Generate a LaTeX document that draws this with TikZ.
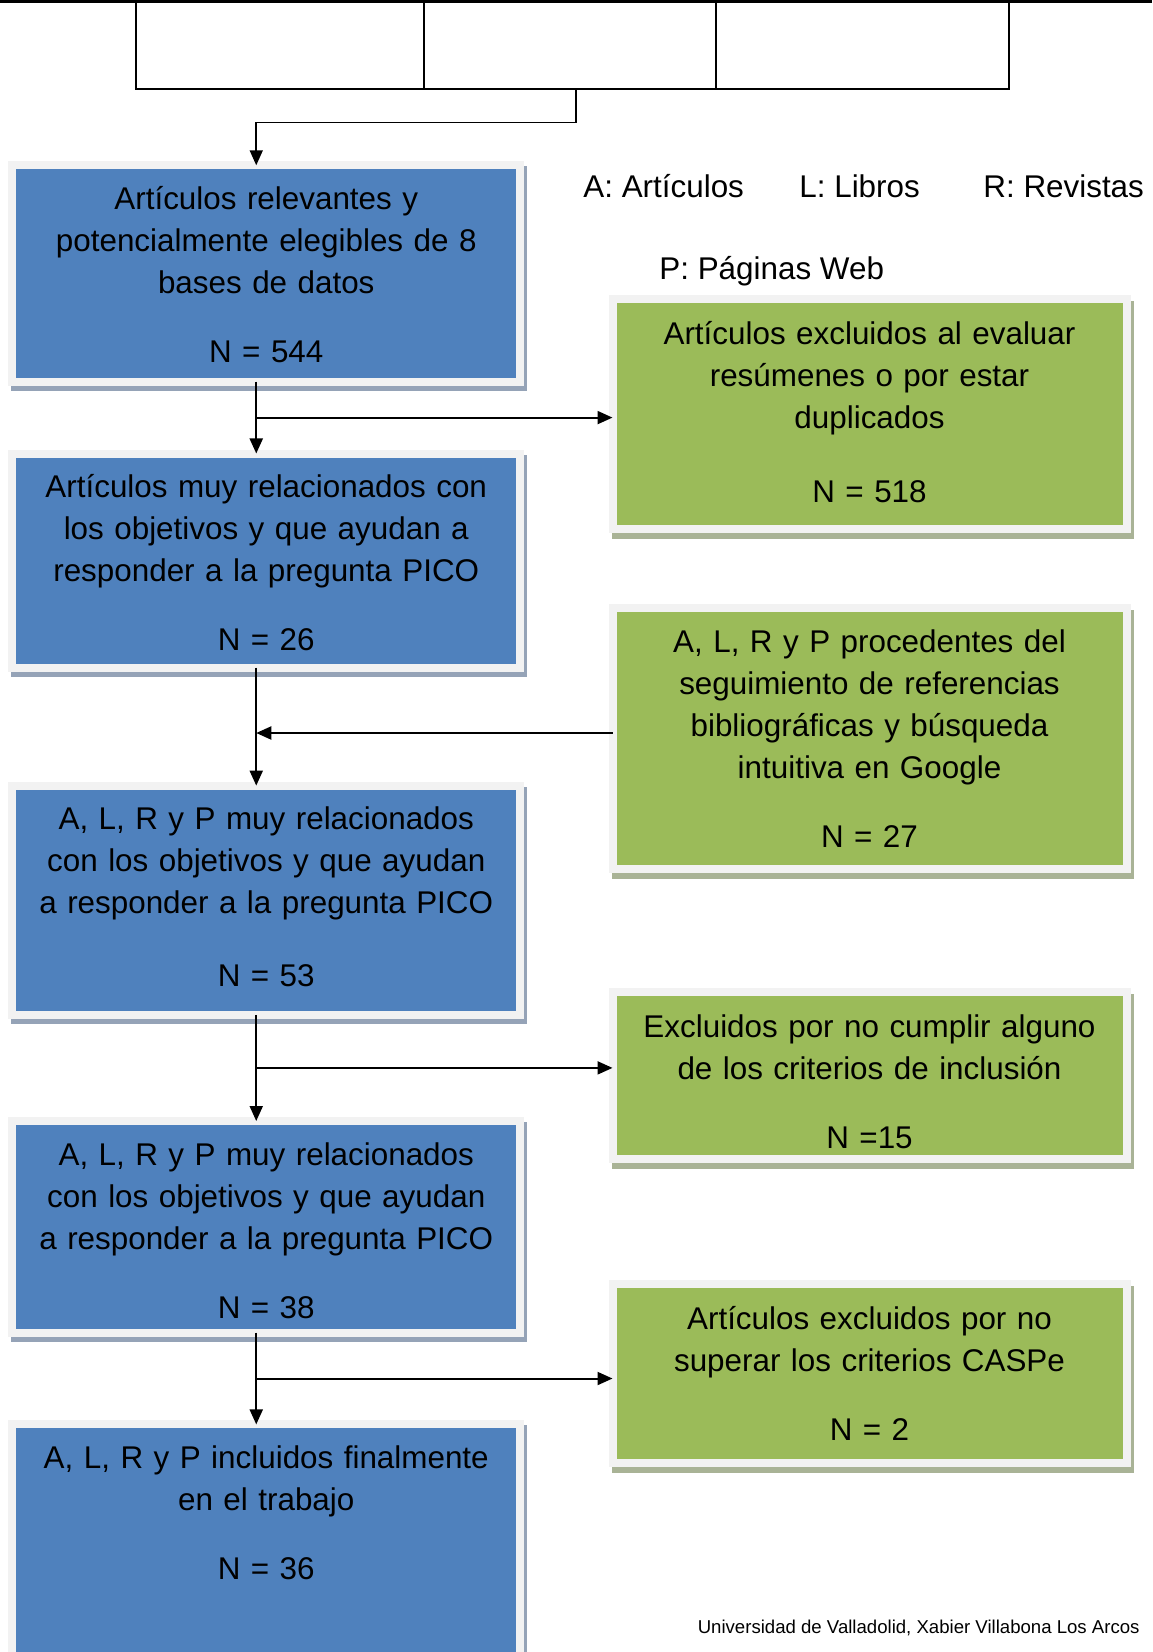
\documentclass[tikz,border=0pt]{standalone}
\usepackage{fontspec}
\setmainfont{Liberation Sans}
\usetikzlibrary{arrows.meta,calc}

\definecolor{azulcaja}{HTML}{4F81BD}
\definecolor{verdecaja}{HTML}{9BBB59}
\definecolor{bordecaja}{HTML}{F2F2F2}
\definecolor{sombraazul}{HTML}{95A3B7}
\definecolor{sombraverde}{HTML}{A9B396}

\tikzset{
  caja/.style={draw=bordecaja, line width=4pt, inner sep=2pt, outer sep=0pt,
    align=center, anchor=north, font=\fontsize{15.7pt}{21pt}\selectfont},
  cajaazul/.style={caja, fill=azulcaja, text width=250pt, text height=20pt,
    preaction={draw=sombraazul, fill=sombraazul, line width=4pt,
      transform canvas={xshift=1.5pt, yshift=-2.5pt}}},
  cajaverde/.style={caja, fill=verdecaja, text width=253pt, text height=20.5pt,
    preaction={draw=sombraverde, fill=sombraverde, line width=4pt,
      transform canvas={xshift=1.5pt, yshift=-3pt}}},
  flecha/.style={-{Triangle[length=7.5pt,width=6.5pt]}, line width=1pt},
  leyenda/.style={anchor=base west, inner sep=0pt,
    font=\fontsize{15.7pt}{21pt}\selectfont}
}

\begin{document}
\begin{tikzpicture}[x=0.5pt, y=-0.5pt]

  \newcommand\XB{266.25}
  \newcommand\XG{869.5}

  \clip (0,0) rectangle (1152,1652);

  % tabla de arriba, cortada
  \draw[line width=1.25pt] (0,1.5) -- (1152,1.5);
  \foreach \x in {289,579,867}
    \draw[line width=1pt] (\x,0) -- (\x,1.5);
  \node[draw, line width=0.8pt, anchor=north west, inner sep=0pt, outer sep=0pt,
    minimum width=436.6pt, minimum height=43.9pt] (filas) at (135.7,1.5) {};
  \foreach \d in {144.15pt,290.15pt}
    \draw[line width=0.8pt] ([xshift=\d]filas.north west) -- ([xshift=\d]filas.south west);

  % cajas azules
  \node[cajaazul, text depth=84.2pt] (b1) at (\XB,165.3)
    {Artículos relevantes y\\ potencialmente elegibles de 8\\ bases de datos\\[13.5pt] N = 544};
  \node[cajaazul, text depth=83pt] (b2) at (\XB,453.5)
    {Artículos muy relacionados con\\ los objetivos y que ayudan a\\ responder a la pregunta PICO\\[13.5pt] N = 26};
  \node[cajaazul, text depth=90.6pt] (b3) at (\XB,785.6)
    {A, L, R y P muy relacionados\\ con los objetivos y que ayudan\\ a responder a la pregunta PICO\\[15.5pt] N = 53};
  \node[cajaazul, text depth=81.8pt] (b4) at (\XB,1121)
    {A, L, R y P muy relacionados\\ con los objetivos y que ayudan\\ a responder a la pregunta PICO\\[13.5pt] N = 38};
  \node[cajaazul, text depth=115.8pt] (b5) at (\XB,1424.4)
    {A, L, R y P incluidos finalmente\\ en el trabajo\\[13.5pt] N = 36};

  % cajas verdes
  \node[cajaverde, text depth=90.5pt] (g1) at (\XG,299.3)
    {Artículos excluidos al evaluar\\ resúmenes o por estar\\ duplicados\\[16.3pt] N = 518};
  \node[cajaverde, text depth=106.1pt] (g2) at (\XG,607.8)
    {A, L, R y P procedentes del\\ seguimiento de referencias\\ bibliográficas y búsqueda\\ intuitiva en Google\\[13.5pt] N = 27};
  \node[cajaverde, text depth=58.9pt] (g3) at (\XG,992)
    {Excluidos por no cumplir alguno\\ de los criterios de inclusión\\[13.5pt] N =15};
  \node[cajaverde, text depth=65pt] (g4) at (\XG,1284)
    {Artículos excluidos por no\\ superar los criterios CASPe\\[13.5pt] N = 2};

  % leyenda
  \node[leyenda] (legA) at (583,198) {A: Artículos};
  \node[leyenda] (legL) at (799,198) {L: Libros};
  \node[leyenda] (legR) at (983,198) {R: Revistas};
  \node[leyenda] (legP) at (659,280) {P: Páginas Web};

  \node[anchor=base east, inner sep=0pt, font=\fontsize{9.3pt}{11pt}\selectfont]
    (pie) at (1140,1633) {Universidad de Valladolid, Xabier Villabona Los Arcos};

  % flechas
  \draw[flecha, line width=0.8pt] ([xshift=1.8pt]filas.south) -- ++(0,33.4)
    -| ([xshift=-5pt]b1.north);

  \foreach \a/\b/\g in {b1/b2/g1, b3/b4/g3, b4/b5/g4} {
    \draw[flecha] ([xshift=-5pt]\a.south) -- ([xshift=-5pt]\b.north);
    \coordinate (m) at ($([xshift=-5pt]\a.south)!0.5!([xshift=-5pt]\b.north)$);
    \draw[flecha] (m) -- (m -| \g.west);
  }

  \coordinate (t2) at ([xshift=-5pt]b2.south);
  \draw[flecha] (t2) -- ([xshift=-5pt]b3.north);
  \coordinate (r2) at ([yshift=2.7pt]g2.west);
  \draw[flecha] (r2) -- (r2 -| t2);

\end{tikzpicture}
\end{document}
